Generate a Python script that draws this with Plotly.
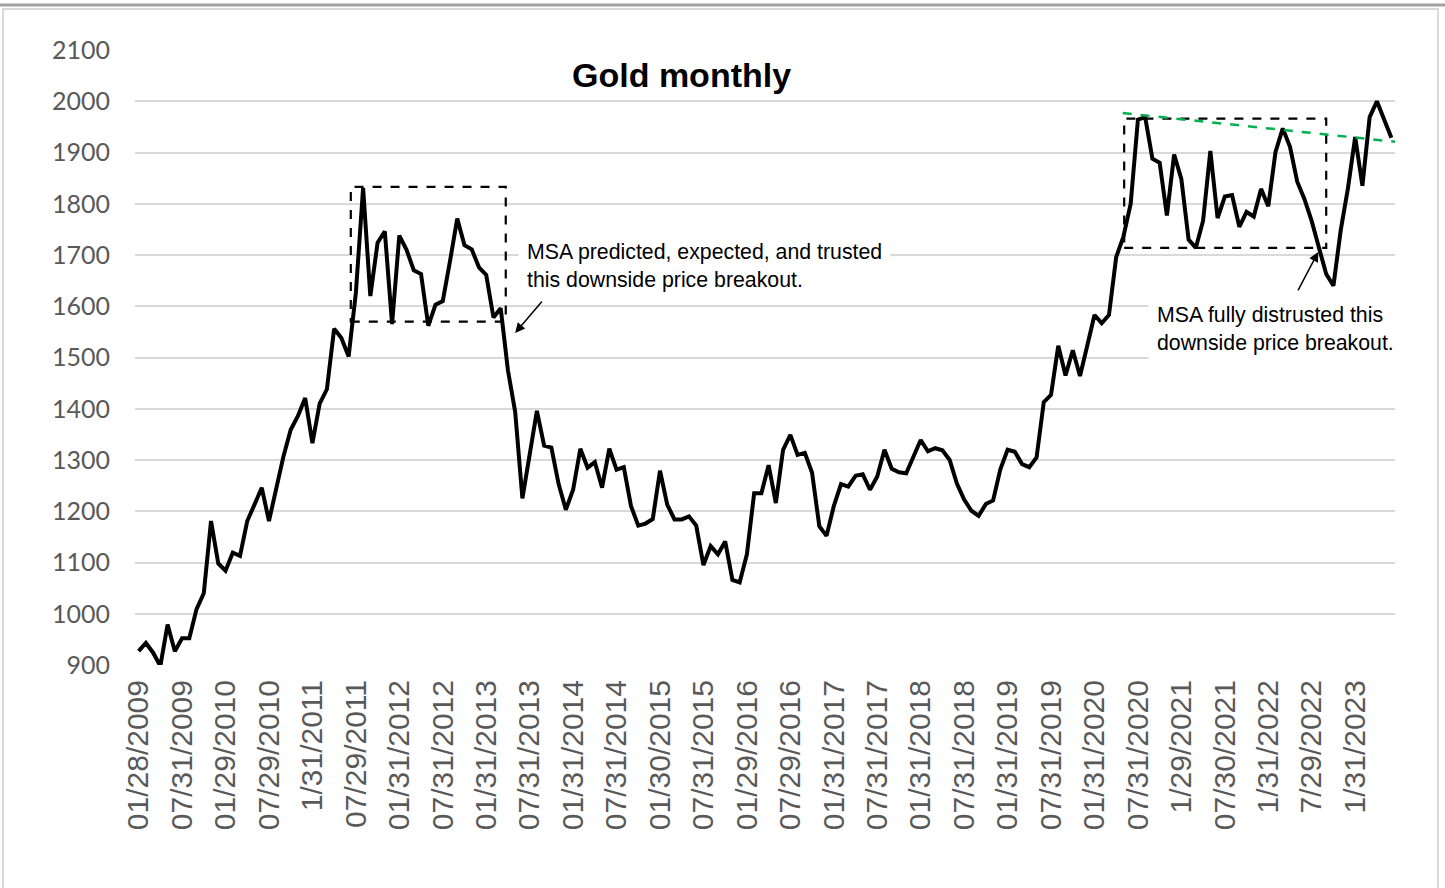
import plotly.graph_objects as go

# month-end gold price, Jan 2009 .. Jun 2023
PRICES = [
    927, 943, 924, 898, 979, 927, 952, 952, 1009, 1040, 1181, 1098,
    1084, 1119, 1113, 1181, 1213, 1246, 1181, 1248, 1307, 1359, 1386, 1421,
    1333, 1410, 1438, 1556, 1538, 1502, 1626, 1831, 1620, 1724, 1746, 1565,
    1738, 1710, 1670, 1663, 1562, 1603, 1610, 1688, 1771, 1719, 1711, 1676,
    1661, 1578, 1596, 1475, 1394, 1225, 1314, 1396, 1328, 1324, 1253, 1203,
    1242, 1322, 1285, 1296, 1246, 1322, 1281, 1286, 1210, 1172, 1176, 1185,
    1279, 1213, 1184, 1184, 1190, 1172, 1095, 1132, 1116, 1141, 1066, 1061,
    1116, 1235, 1235, 1290, 1216, 1320, 1349, 1310, 1314, 1275, 1171, 1152,
    1210, 1253, 1248, 1269, 1272, 1242, 1268, 1320, 1283, 1276, 1274, 1306,
    1339, 1317, 1323, 1319, 1300, 1254, 1223, 1201, 1191, 1214, 1221, 1282,
    1320, 1316, 1292, 1286, 1305, 1413, 1427, 1523, 1465, 1514, 1464, 1523,
    1583, 1567, 1583, 1696, 1736, 1800, 1964, 1969, 1888, 1880, 1777, 1896,
    1848, 1730, 1714, 1767, 1903, 1772, 1814, 1817, 1755, 1784, 1775, 1829,
    1795, 1901, 1947, 1911, 1843, 1809, 1766, 1714, 1663, 1640, 1748, 1830,
    1930, 1835, 1969, 2000, 1964, 1929,
]

TICK_LABELS = [
    "01/28/2009", "07/31/2009", "01/29/2010", "07/29/2010", "1/31/2011",
    "07/29/2011", "01/31/2012", "07/31/2012", "01/31/2013", "07/31/2013",
    "01/31/2014", "07/31/2014", "01/30/2015", "07/31/2015", "01/29/2016",
    "07/29/2016", "01/31/2017", "07/31/2017", "01/31/2018", "07/31/2018",
    "01/31/2019", "07/31/2019", "01/31/2020", "07/31/2020", "1/29/2021",
    "07/30/2021", "1/31/2022", "7/29/2022", "1/31/2023",
]
TICK_STEP = 6

Y_TICKS = list(range(900, 2101, 100))

# consolidation boxes (month index, price)
BOX_2011 = dict(x0=29.3, x1=50.7, y0=1570, y1=1833)
BOX_2020 = dict(x0=136.1, x1=164.0, y0=1714, y1=1966)
TREND = dict(x0=135.9, y0=1977, x1=173.5, y1=1921)

x_idx = list(range(len(PRICES)))

# layout in pixels
W, H = 1445, 888
L, R, T, B = 135, 50, 50, 223


def px_x(p):
    return (p - L) / (W - L - R)


def px_y(p):
    return (H - B - p) / (H - T - B)


fig = go.Figure()
fig.add_trace(go.Scatter(x=x_idx, y=PRICES, mode='lines',
                         line=dict(color='black', width=4),
                         showlegend=False, hoverinfo='y'))

dash_line = dict(color='black', width=2.2, dash='dash')
fig.add_shape(type='rect', xref='x', yref='y', line=dash_line, **BOX_2011)
fig.add_shape(type='rect', xref='x', yref='y', line=dash_line, **BOX_2020)
fig.add_shape(type='line', xref='x', yref='y',
              line=dict(color='#00b050', width=2.5, dash='dash'), **TREND)

# frame
fig.add_shape(type='line', xref='paper', yref='paper',
              x0=px_x(0), x1=px_x(W), y0=px_y(5), y1=px_y(5),
              line=dict(color='#a0a0a0', width=3))
fig.add_shape(type='rect', xref='paper', yref='paper',
              x0=px_x(3), x1=px_x(1438), y0=px_y(9), y1=px_y(900),
              line=dict(color='#d9d9d9', width=2))

note_font = dict(family='Liberation Sans, Arial', size=21.3, color='black')
fig.add_annotation(x=52.4, y=1679, xref='x', yref='y', xanchor='left', yanchor='middle',
                   text='MSA predicted, expected, and trusted<br>this downside price breakout.',
                   showarrow=False, align='left', bgcolor='white', borderpad=8, font=note_font)
fig.add_annotation(x=139.4, y=1556, xref='x', yref='y', xanchor='left', yanchor='middle',
                   text='MSA fully distrusted this<br>downside price breakout.',
                   showarrow=False, align='left', bgcolor='white', borderpad=8, font=note_font)

arrow = dict(showarrow=True, arrowhead=2, arrowsize=1.3, arrowwidth=1.5,
             arrowcolor='black', text='', standoff=0, xref='x', yref='y')
fig.add_annotation(x=52.0, y=1548, ax=28, ay=-33, **arrow)
fig.add_annotation(x=162.9, y=1706, ax=-21, ay=40, **arrow)

fig.add_annotation(x=px_x(681), y=px_y(75), xref='paper', yref='paper',
                   xanchor='center', yanchor='middle',
                   text='<b>Gold monthly</b>', showarrow=False,
                   font=dict(family='Liberation Sans, Arial', size=34, color='black'))

fig.update_layout(
    width=W, height=H,
    margin=dict(l=L, r=R, t=T, b=B),
    paper_bgcolor='white', plot_bgcolor='white',
    xaxis=dict(range=[-0.5, len(PRICES) - 0.5],
               tickvals=x_idx[::TICK_STEP], ticktext=TICK_LABELS,
               tickangle=-90, showgrid=False, zeroline=False, showline=False,
               ticks='', ticklabelstandoff=8,
               tickfont=dict(family='Liberation Sans, Arial', size=30, color='#595959')),
    yaxis=dict(range=[Y_TICKS[0], Y_TICKS[-1]], tickvals=Y_TICKS,
               showgrid=True, gridcolor='#d9d9d9', gridwidth=2,
               zeroline=False, showline=False, ticks='', ticklabelstandoff=24,
               tickfont=dict(family='Lato, Carlito, sans-serif', size=25, color='#595959')),
)

fig.write_html("out.html", config={'displayModeBar': False},
               post_script="document.body.style.margin = '0';")
